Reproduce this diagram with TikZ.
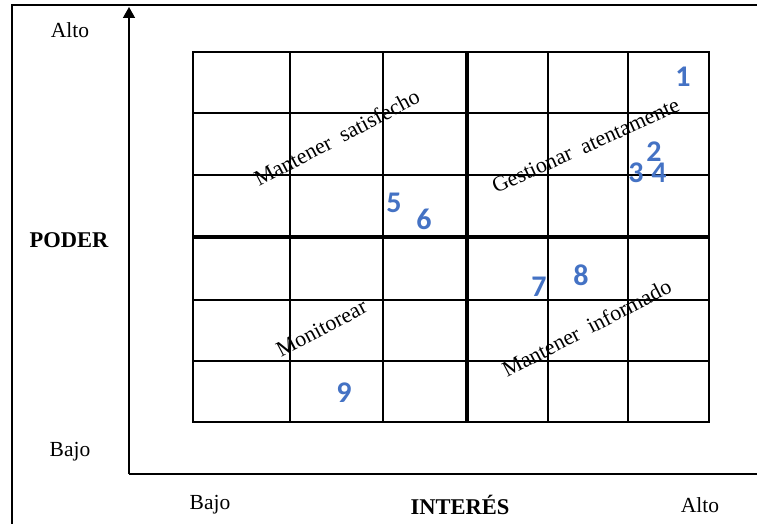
\documentclass[tikz,border=0pt]{standalone}
\usepackage{fontspec}
\setmainfont{Liberation Serif}
\newfontfamily\numfont{Carlito}
\usetikzlibrary{arrows.meta}
\definecolor{numblue}{RGB}{68,114,196}
\begin{document}
\begin{tikzpicture}[x=1pt,y=-1pt,
 lbl/.style={font=\fontsize{21.5}{25}\selectfont, inner sep=0pt},
 boldlbl/.style={font=\fontsize{22.5}{26}\selectfont\bfseries, inner sep=0pt},
 diag/.style={font=\fontsize{22}{26}\selectfont, inner sep=0pt, anchor=base west},
 num/.style={font=\numfont\bfseries\fontsize{30}{30}\selectfont, text=numblue, inner sep=0pt},
 gridline/.style={line width=2pt},
 gridthick/.style={line width=3.6pt},
 axisline/.style={line width=1.5pt, -{Triangle[width=12pt,length=11pt]}},
]
\useasboundingbox (0,0) rectangle (757,524);
\clip (0,0) rectangle (757,524);
% outer frame
\draw[line width=2pt] (12,5) rectangle (800,580);
% axes
\coordinate (origin) at (129,474);
\coordinate (ytop) at (129,7);
\coordinate (xend) at (768,474);
\draw[axisline] (origin) -- (ytop);
\draw[axisline] (origin) -- (xend);
% grid
\foreach \x in {290,383,548,628} \draw[gridline] (\x,52) -- (\x,422);
\foreach \y in {113,175,300,361} \draw[gridline] (193,\y) -- (709,\y);
\draw[gridline] (193,52) rectangle (709,422);
\draw[gridthick] (467,52) -- (467,422);
\draw[gridthick] (193,237) -- (709,237);
% axis labels
\node[lbl] (altoY) at (70,30) {Alto};
\node[boldlbl] (poder) at (69,240) {PODER};
\node[lbl] (bajoY) at (70,452) {Bajo};
\node[lbl] (bajoX) at (210,505) {Bajo};
\node[boldlbl] (interes) at (460,505) {INTERÉS};
\node[lbl] (altoX) at (700,505) {Alto};
% quadrant labels
\node[diag, rotate=27.7] (q1) at (259,187) {Mantener~~satisfecho};
\node[diag, rotate=24.3] (q2) at (496,194) {Gestionar~~atentamente};
\node[diag, rotate=28] (q3) at (281,358) {Monitorear};
\node[diag, rotate=27.5] (q4) at (507,378) {Mantener~~informado};
% stakeholders
\node[num] (n1) at (683,77) {1};
\node[num] (n2) at (654,152) {2};
\node[num] (n3) at (636,173) {3};
\node[num] (n4) at (659,173) {4};
\node[num] (n5) at (394,203) {5};
\node[num] (n6) at (424,219) {6};
\node[num] (n7) at (539,287) {7};
\node[num] (n8) at (581,275) {8};
\node[num] (n9) at (344,393) {9};
\end{tikzpicture}
\end{document}
